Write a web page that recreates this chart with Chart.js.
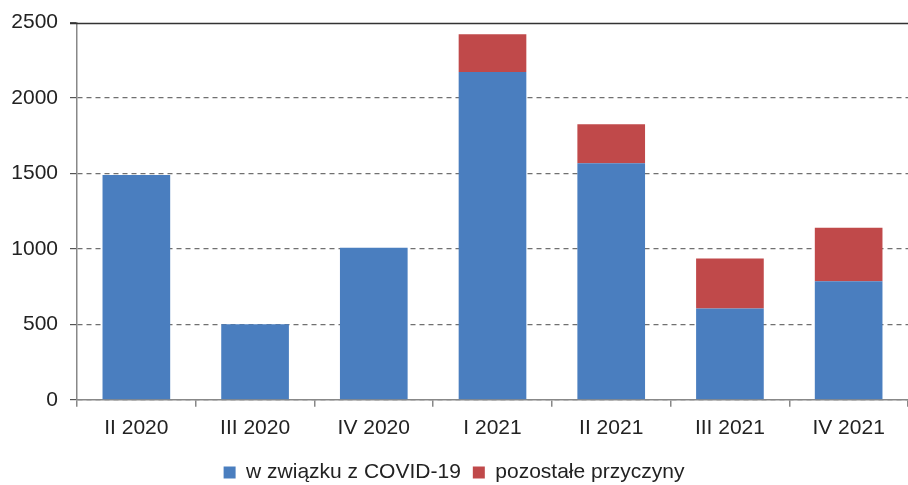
<!DOCTYPE html>
<html>
<head>
<meta charset="utf-8">
<script src="https://cdn.jsdelivr.net/npm/chart.js@4/dist/chart.umd.min.js"></script>
<style>
  html, body { margin: 0; padding: 0; background: #fff; }
  #wrap { width: 908px; height: 485px; }
</style>
</head>
<body>
<div id="wrap"><canvas id="chart"></canvas></div>
<script>
const quarters = ["II 2020", "III 2020", "IV 2020", "I 2021", "II 2021", "III 2021", "IV 2021"];
const covid = [1490, 500, 1008, 2172, 1568, 605, 785];
const other = [0, 0, 0, 250, 258, 331, 355];
const yTicks = [0, 500, 1000, 1500, 2000, 2500];

// solid line along the top of the plot (2500)
const topLine = {
  id: "topLine",
  afterDatasetsDraw(chart) {
    const { ctx, chartArea, scales } = chart;
    const y = Math.round(scales.y.getPixelForValue(2500)) + 0.5;
    ctx.save();
    ctx.strokeStyle = "#333";
    ctx.lineWidth = 1.5;
    ctx.beginPath();
    ctx.moveTo(chartArea.left - 7, y);
    ctx.lineTo(chartArea.right, y);
    ctx.stroke();
    ctx.restore();
  },
};

const fontFamily = "'Liberation Sans', Arial, sans-serif";

new Chart(document.querySelector("#chart"), {
  type: "bar",
  plugins: [topLine],
  data: {
    labels: quarters,
    datasets: [
      {
        label: "w związku z COVID-19",
        data: covid,
        backgroundColor: "#4a7ebf",
        categoryPercentage: 1,
        barPercentage: 0.57,
      },
      {
        label: "pozostałe przyczyny",
        data: other,
        backgroundColor: "#c0494a",
        categoryPercentage: 1,
        barPercentage: 0.57,
      },
    ],
  },
  options: {
    responsive: true,
    maintainAspectRatio: false,
    animation: false,
    layout: {
      padding: { top: 21, right: 0, left: 0, bottom: -8 },
    },
    plugins: {
      tooltip: { enabled: false },
      legend: {
        position: "bottom",
        labels: {
          font: { family: fontFamily, size: 21 },
          color: "#222",
          boxWidth: 12,
          boxHeight: 12,
          padding: 12,
        },
      },
    },
    scales: {
      x: {
        stacked: true,
        grid: {
          drawOnChartArea: false,
          tickLength: 7,
          color: "#888",
          tickColor: "#888",
          lineWidth: 1.5,
        },
        border: { color: "#888", width: 1.5 },
        ticks: {
          font: { family: fontFamily, size: 21 },
          color: "#222",
          padding: 9,
        },
      },
      y: {
        stacked: true,
        min: 0,
        max: 2500,
        afterBuildTicks: (axis) => {
          axis.ticks = yTicks.map((v) => ({ value: v }));
        },
        afterFit: (axis) => {
          axis.width = 77;
        },
        grid: {
          color: (c) => (c.tick && c.tick.value === 2500 ? "rgba(0,0,0,0)" : "#707070"),
          tickColor: "#555",
          tickLength: 7,
          lineWidth: 1.2,
        },
        border: { color: "#888", width: 1.5, dash: [5, 4] },
        ticks: {
          font: { family: fontFamily, size: 21, lineHeight: 1 },
          color: "#222",
          padding: 12,
          callback: (v) => String(v),
        },
      },
    },
  },
});
</script>
</body>
</html>
